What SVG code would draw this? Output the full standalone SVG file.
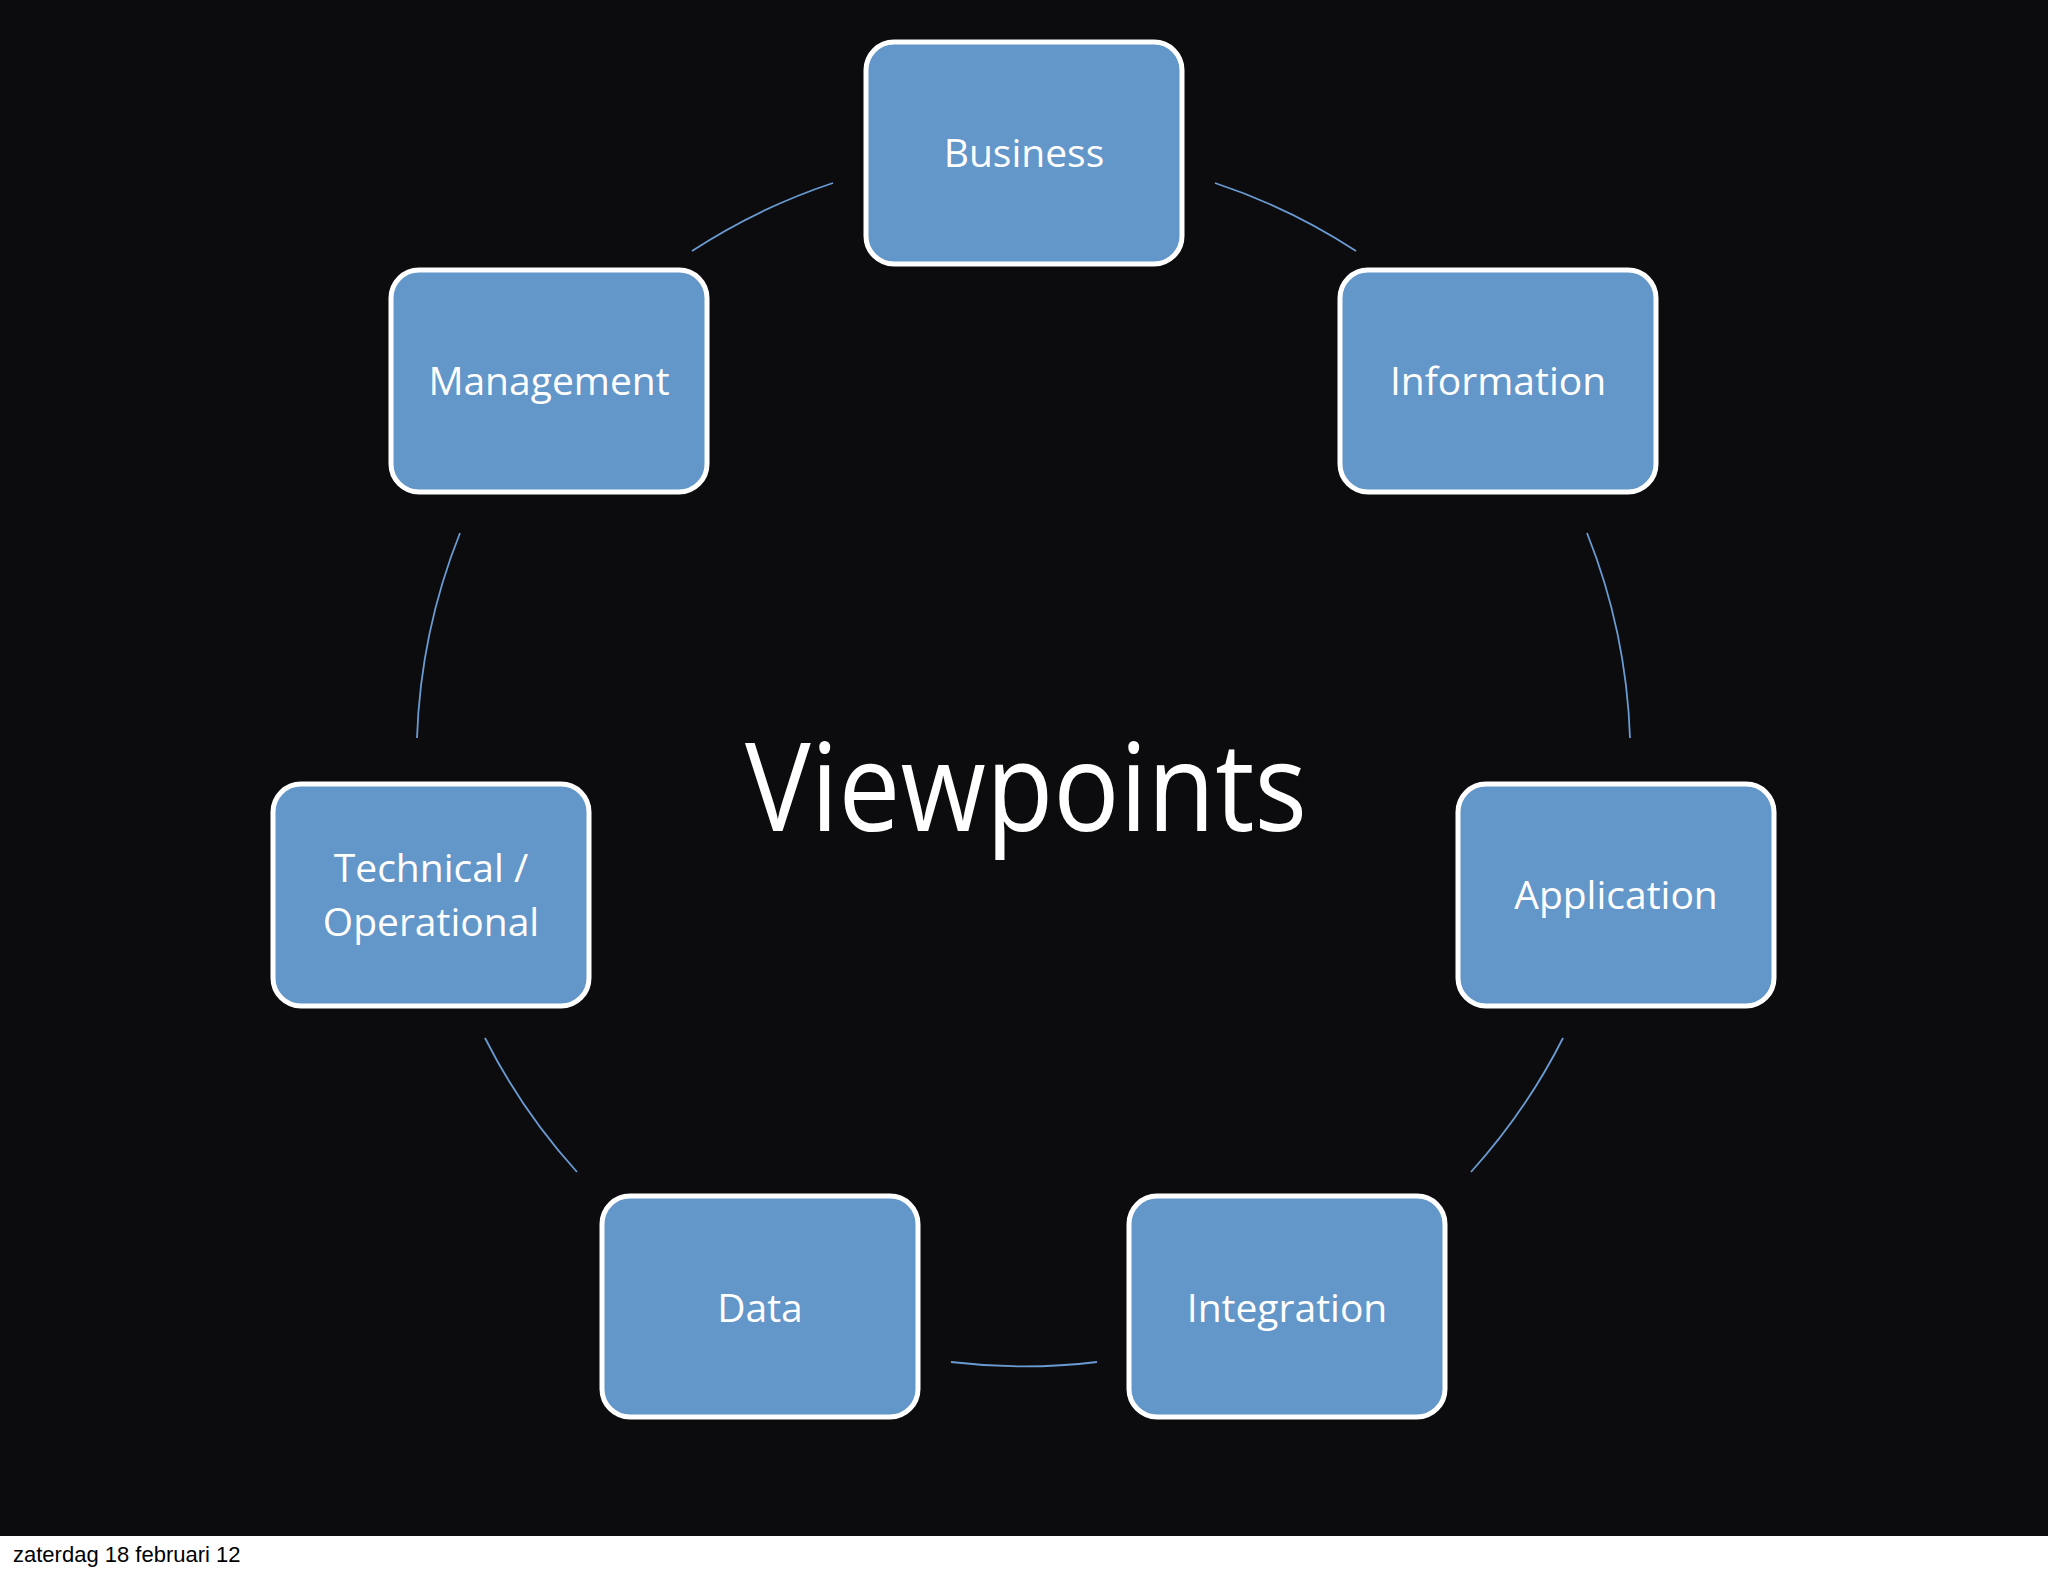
<svg xmlns="http://www.w3.org/2000/svg" width="2048" height="1576" viewBox="0 0 2048 1576">
<style>
.box{fill:#6396c9;stroke:#fff;stroke-width:5}
.lbl{font-family:"Open Sans","Noto Sans",sans-serif;font-size:39px;fill:#fff;text-anchor:middle}
.arc{fill:none;stroke:#6a9bd2;stroke-width:1.8}
</style>
<rect x="0" y="0" width="2048" height="1576" fill="#fff"/>
<rect x="0" y="0" width="2048" height="1536" fill="#0c0c0e"/>
<g id="connectors">
<path class="arc" d="M833,183 A607,607 0 0 0 692,251"/>
<path class="arc" d="M1215,183 A607,607 0 0 1 1356,251"/>
<path class="arc" d="M1587,533 A607,607 0 0 1 1630,738"/>
<path class="arc" d="M1563,1038 A607,607 0 0 1 1471,1172"/>
<path class="arc" d="M1097,1362 A607,607 0 0 1 951,1362"/>
<path class="arc" d="M577,1172 A607,607 0 0 1 485,1038"/>
<path class="arc" d="M417,738 A607,607 0 0 1 460,533"/>
</g>
<g id="business"><rect class="box" x="866" y="42" width="316" height="222" rx="28"/><text class="lbl" x="1024" y="167">Business</text></g>
<g id="information"><rect class="box" x="1340" y="270" width="316" height="222" rx="28"/><text class="lbl" x="1498" y="395">Information</text></g>
<g id="management"><rect class="box" x="391" y="270" width="316" height="222" rx="28"/><text class="lbl" x="549" y="395">Management</text></g>
<g id="application"><rect class="box" x="1458" y="784" width="316" height="222" rx="28"/><text class="lbl" x="1616" y="909">Application</text></g>
<g id="technical"><rect class="box" x="273" y="784" width="316" height="222" rx="28"/><text class="lbl" x="431" y="882">Technical /</text><text class="lbl" x="431" y="936">Operational</text></g>
<g id="data"><rect class="box" x="602" y="1196" width="316" height="221" rx="28"/><text class="lbl" x="760" y="1322">Data</text></g>
<g id="integration"><rect class="box" x="1129" y="1196" width="316" height="221" rx="28"/><text class="lbl" x="1287" y="1322">Integration</text></g>
<g id="title"><text x="1026" y="831" font-family="Open Sans,Noto Sans,sans-serif" font-size="122" fill="#fff" text-anchor="middle" textLength="562" lengthAdjust="spacingAndGlyphs">Viewpoints</text></g>
<text x="13" y="1562" font-family="Liberation Sans,Arial,sans-serif" font-size="22" fill="#000">zaterdag 18 februari 12</text>
</svg>
